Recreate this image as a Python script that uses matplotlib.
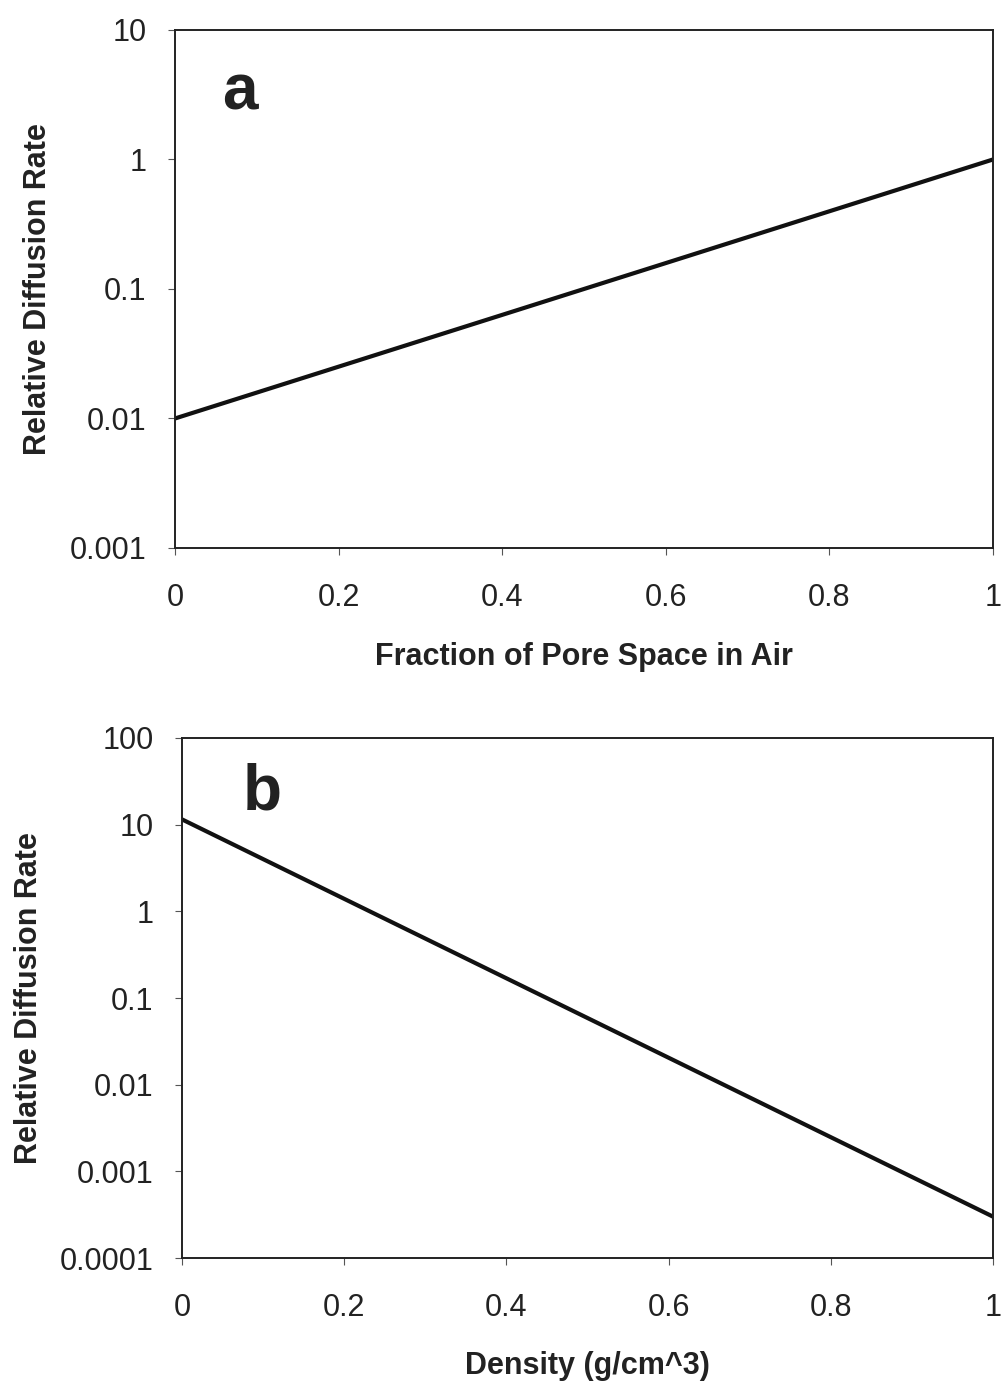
import numpy as np
import matplotlib.pyplot as plt

plt.rcParams['font.family'] = ['Liberation Sans', 'DejaVu Sans']

# panel a: relative diffusion vs air-filled pore fraction
air_frac = [0.0, 1.0]
rate_a = [0.01, 1.0]

# panel b: relative diffusion vs density
density = [0.0, 1.0]
rate_b = [11.5, 0.0003]

x_ticks = [0, 0.2, 0.4, 0.6, 0.8, 1]
x_ticklabels = ['0', '0.2', '0.4', '0.6', '0.8', '1']
ya_ticks = [0.001, 0.01, 0.1, 1, 10]
ya_labels = ['0.001', '0.01', '0.1', '1', '10']
yb_ticks = [0.0001, 0.001, 0.01, 0.1, 1, 10, 100]
yb_labels = ['0.0001', '0.001', '0.01', '0.1', '1', '10', '100']

fig = plt.figure(figsize=(10.03, 13.82), dpi=100)
ax1 = fig.add_axes([0.1745, 0.6035, 0.8155, 0.3748])
ax2 = fig.add_axes([0.1815, 0.0897, 0.8086, 0.3763])


def style(ax, yticks, ylabels, ylim, xlabel, xlabpad, ylabpad, letter, lx, ly):
    ax.set_yscale('log')
    ax.set_xlim(0, 1)
    ax.set_ylim(*ylim)
    ax.set_xticks(x_ticks)
    ax.set_xticklabels(x_ticklabels)
    ax.set_yticks(yticks)
    ax.set_yticklabels(ylabels)
    ax.minorticks_off()
    ax.tick_params(axis='both', direction='out', length=5, width=0.8,
                   labelsize=22, color='#555555', labelcolor='#222222')
    ax.tick_params(axis='x', pad=20)
    ax.tick_params(axis='y', pad=15.5)
    for s in ax.spines.values():
        s.set_linewidth(1.4)
        s.set_color('#222222')
    ax.set_xlabel(xlabel, fontsize=22, fontweight='bold', labelpad=xlabpad,
                  color='#222222')
    ax.set_ylabel('Relative Diffusion Rate', fontsize=22, fontweight='bold',
                  labelpad=ylabpad, color='#222222')
    ax.text(lx, ly, letter, transform=ax.transAxes, fontsize=46,
            fontweight='bold', color='#222222')


ax1.plot(air_frac, rate_a, color='#111111', lw=3)
style(ax1, ya_ticks, ya_labels, (0.001, 10),
      'Fraction of Pore Space in Air', 21, 12, 'a', 0.058, 0.847)

ax2.plot(density, rate_b, color='#111111', lw=3)
style(ax2, yb_ticks, yb_labels, (0.0001, 100),
      'Density (g/cm^3)', 20, 11.5, 'b', 0.075, 0.862)

fig.savefig('out.png', dpi=100)
